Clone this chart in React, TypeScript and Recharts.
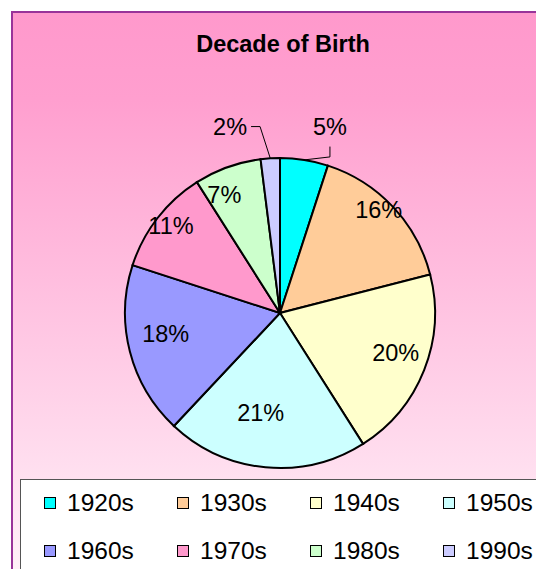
import { PieChart, Pie, Cell, Legend } from 'recharts'

const decades = ['1920s', '1930s', '1940s', '1950s', '1960s', '1970s', '1980s', '1990s']
const shares = [5, 16, 20, 21, 18, 11, 7, 2]
const colors = ['#00ffff', '#ffcc99', '#ffffcc', '#ccffff', '#9999ff', '#ff99cc', '#ccffcc', '#ccccff']

// where excel's "best fit" put the inside labels: radius fraction + angle nudge (deg)
const labelRadius = [1, 0.92, 0.79, 0.66, 0.75, 0.9, 0.84, 1]
const labelNudge = [0, -3, -2.5, 5.5, 4, 0.8, -5.5, 0]

const data = decades.map((name, i) => ({ name, value: shares[i] }))

const FONT = '"Liberation Sans", Arial, sans-serif'
const RAD = Math.PI / 180

const renderLabel = (props: any) => {
  const { cx, cy, midAngle, outerRadius, index, value } = props
  let theta = 90 - midAngle
  if (theta > 180) theta -= 360
  if (theta < -180) theta += 360

  if (value > 5) {
    const r = outerRadius * labelRadius[index]
    const t = theta + labelNudge[index]
    const x = cx + r * Math.sin(t * RAD)
    const y = cy - r * Math.cos(t * RAD)
    return (
      <text x={x} y={y} textAnchor="middle" dominantBaseline="central" fontSize={23.5} fontFamily={FONT} fill="#000">
        {value}%
      </text>
    )
  }

  // small slices go outside with a leader line
  const ax = cx + outerRadius * Math.sin(theta * RAD)
  const ay = cy - outerRadius * Math.cos(theta * RAD)
  const lt = (theta >= 0 ? 1 : -1) * Math.max(Math.abs(theta), 15)
  const lr = outerRadius + 38
  const lx = cx + lr * Math.sin(lt * RAD)
  const ly = cy - lr * Math.cos(lt * RAD)
  const pts = theta >= 0
    ? [[ax, ay], [lx, ay - 3], [lx, ly + 20]]
    : [[ax, ay], [lx + 30, ly], [lx + 21, ly]]
  return (
    <g>
      <polyline points={pts.map((p) => p.join(',')).join(' ')} fill="none" stroke="#000" strokeWidth={1} />
      <text x={lx} y={ly} textAnchor="middle" dominantBaseline="central" fontSize={23.5} fontFamily={FONT} fill="#000">
        {value}%
      </text>
    </g>
  )
}

const renderLegend = () => (
  <div
    style={{
      position: 'relative',
      width: 560,
      height: 120,
      background: '#fff',
      border: '1px solid #555',
      boxSizing: 'border-box',
      fontFamily: FONT,
    }}
  >
    {decades.map((d, i) => (
      <div
        key={d}
        style={{
          position: 'absolute',
          left: 23 + (i % 4) * 133,
          top: i < 4 ? 9 : 57,
          height: 28,
          display: 'flex',
          alignItems: 'center',
          fontSize: 24.5,
          color: '#000',
        }}
      >
        <span
          style={{
            display: 'inline-block',
            width: 10,
            height: 10,
            background: colors[i],
            border: '1.5px solid #000',
            marginRight: 11,
          }}
        />
        {d}
      </div>
    ))}
  </div>
)

export default function App() {
  return (
    <div style={{ position: 'fixed', left: 0, top: 0, width: 536, height: 569, overflow: 'hidden', background: '#fff' }}>
      <div
        style={{
          position: 'absolute',
          left: 11,
          top: 11,
          width: 560,
          height: 580,
          border: '2px solid #993399',
          background: 'linear-gradient(to bottom, #ff99cc 0%, #ff9fcf 15%, #fff4fa 100%)',
        }}
      >
        <div
          style={{
            position: 'absolute',
            left: 0,
            width: 540,
            top: 18,
            textAlign: 'center',
            fontFamily: FONT,
            fontWeight: 'bold',
            fontSize: 23.5,
            color: '#000',
          }}
        >
          Decade of Birth
        </div>
        <div style={{ position: 'absolute', left: 0, top: 0 }}>
          <PieChart width={560} height={580} margin={{ top: 0, right: 0, bottom: 0, left: 0 }}>
            <Pie
              data={data}
              dataKey="value"
              nameKey="name"
              cx={267}
              cy={300}
              outerRadius={155}
              startAngle={90}
              endAngle={-270}
              stroke="#000"
              strokeWidth={2}
              label={renderLabel}
              labelLine={false}
              isAnimationActive={false}
            >
              {data.map((d, i) => (
                <Cell key={d.name} fill={colors[i]} />
              ))}
            </Pie>
            <Legend content={renderLegend} wrapperStyle={{ left: 7, top: 466, width: 560, height: 120, bottom: 'auto' }} />
          </PieChart>
        </div>
      </div>
    </div>
  )
}
